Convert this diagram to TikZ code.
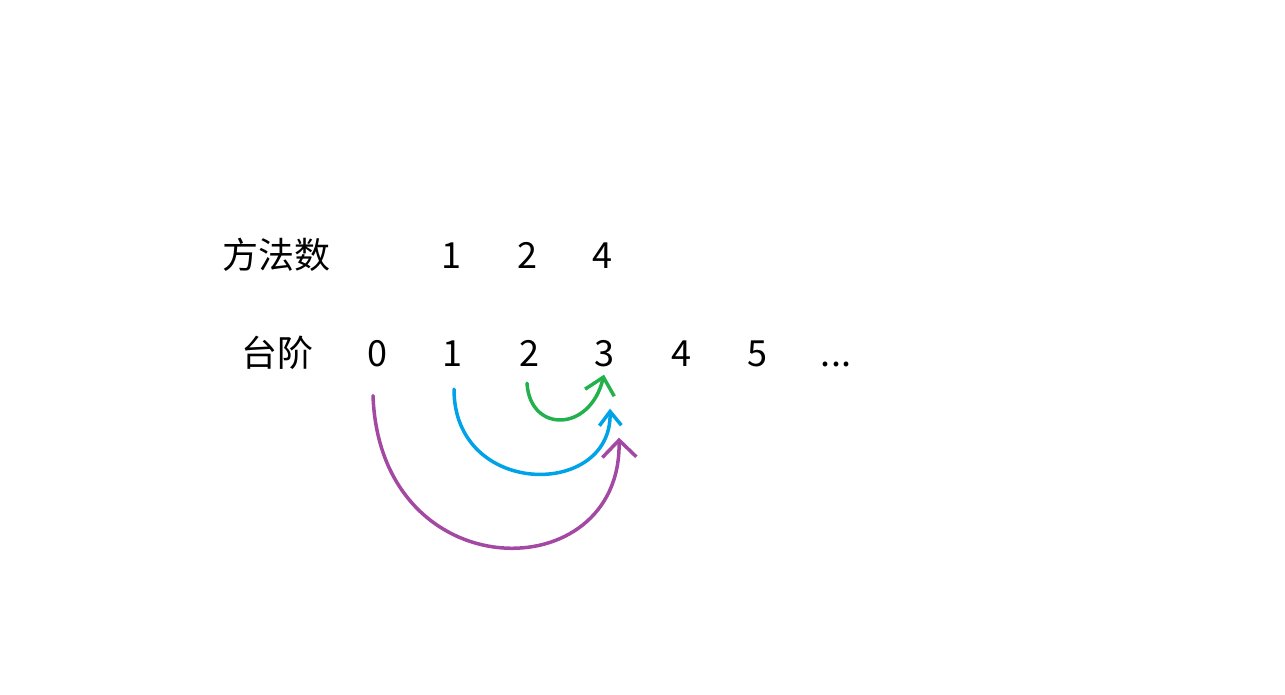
\documentclass[tikz,border=0pt]{standalone}
\usepackage{fontspec}
\setmainfont{Noto Sans CJK SC}
\usetikzlibrary{arrows.meta,calc}
\definecolor{paintgreen}{HTML}{22B14C}
\definecolor{paintblue}{HTML}{00A2E8}
\definecolor{paintpurple}{HTML}{A349A4}
\tikzstyle{lbl}=[inner sep=0pt, anchor=base, font=\fontsize{36}{40}\selectfont]
\tikzstyle{jump}=[line width=3.5pt, line cap=round, line join=round]
\def\rowa{268}
\def\rowb{366}

\begin{document}
\begin{tikzpicture}[x=1pt,y=-1pt]
	%canvas of the original screenshot
	\useasboundingbox (0,0) rectangle (1285,694);

	% row with the number of ways
	\node (ways) [lbl] at (276,\rowa) {方法数};
	\node (w1) [lbl] at (451,\rowa) {1};
	\node (w2) [lbl] at (527,\rowa) {2};
	\node (w3) [lbl] at (602,\rowa) {4};

	% row with the steps
	\node (steps) [lbl] at (277,\rowb) {台阶};
	\foreach \n/\x in {0/377,1/452,2/529,3/604,4/681,5/757}
		\node (s\n) [lbl] at (\x,\rowb) {\n};
	\node (more) [lbl] at (836,\rowb) {...};

	% jumps onto step 3
	\draw [jump, paintgreen, -{Straight Barb[length=16pt,width=30pt]}]
		($(s2.south)+(-2,17)$) .. controls +(3,50) and +(-14,58) .. ($(s3.south)+(0,8)$);
	\draw [jump, paintblue, -{Straight Barb[length=14pt,width=22pt]}]
		($(s1.south)+(2,23)$) .. controls +(0,109) and +(2,90) .. ($(s3.south)+(6,42)$);
	\draw [jump, paintpurple, -{Straight Barb[length=17pt,width=34pt]}]
		($(s0.south)+(-4,29)$) .. controls +(7,195) and +(3,153) .. ($(s3.south)+(15,71)$);
\end{tikzpicture}
\end{document}
